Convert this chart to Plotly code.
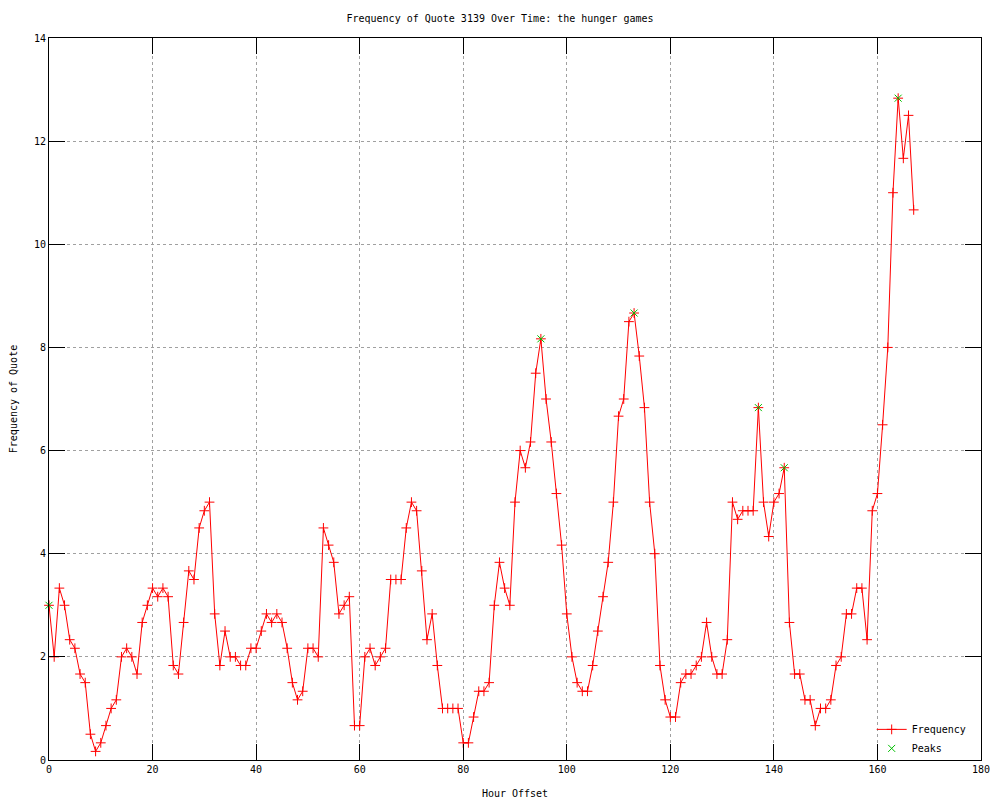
import plotly.graph_objects as go

hours = list(range(168))
freq = [
    3.0, 2.0, 3.333, 3.0, 2.333, 2.1667, 1.667, 1.5, 0.5, 0.1667,
    0.333, 0.667, 1.0, 1.1667, 2.0, 2.1667, 2.0, 1.667, 2.667, 3.0,
    3.333, 3.1667, 3.333, 3.1667, 1.833, 1.667, 2.667, 3.667, 3.5, 4.5,
    4.833, 5.0, 2.833, 1.833, 2.5, 2.0, 2.0, 1.833, 1.833, 2.1667,
    2.1667, 2.5, 2.833, 2.667, 2.833, 2.667, 2.1667, 1.5, 1.1667, 1.333,
    2.1667, 2.1667, 2.0, 4.5, 4.1667, 3.833, 2.833, 3.0, 3.1667, 0.667,
    0.667, 2.0, 2.1667, 1.833, 2.0, 2.1667, 3.5, 3.5, 3.5, 4.5,
    5.0, 4.833, 3.667, 2.333, 2.833, 1.833, 1.0, 1.0, 1.0, 1.0,
    0.333, 0.333, 0.833, 1.333, 1.333, 1.5, 3.0, 3.833, 3.333, 3.0,
    5.0, 6.0, 5.667, 6.1667, 7.5, 8.1667, 7.0, 6.1667, 5.1667, 4.1667,
    2.833, 2.0, 1.5, 1.333, 1.333, 1.833, 2.5, 3.1667, 3.833, 5.0,
    6.667, 7.0, 8.5, 8.667, 7.833, 6.833, 5.0, 4.0, 1.833, 1.1667,
    0.833, 0.833, 1.5, 1.667, 1.667, 1.833, 2.0, 2.667, 2.0, 1.667,
    1.667, 2.333, 5.0, 4.667, 4.833, 4.833, 4.833, 6.833, 5.0, 4.333,
    5.0, 5.1667, 5.667, 2.667, 1.667, 1.667, 1.1667, 1.1667, 0.667, 1.0,
    1.0, 1.1667, 1.833, 2.0, 2.833, 2.833, 3.333, 3.333, 2.333, 4.833,
    5.1667, 6.5, 8.0, 11.0, 12.833, 11.667, 12.5, 10.667,
]
peak_hours = [0, 95, 113, 137, 142, 164]
peak_vals = [freq[h] for h in peak_hours]

x_ticks = list(range(0, 181, 20))
y_ticks = list(range(0, 15, 2))

FONT = "DejaVu Sans Mono"

fig = go.Figure()
fig.add_trace(go.Scatter(
    x=hours, y=freq, mode="lines+markers", name="Frequency",
    line=dict(color="#ff0000", width=1), cliponaxis=False,
    marker=dict(symbol="cross-thin", size=7, line=dict(color="#ff0000", width=1)),
))
fig.add_trace(go.Scatter(
    x=peak_hours, y=peak_vals, mode="markers", name="Peaks", cliponaxis=False,
    marker=dict(symbol="x-thin", size=7, line=dict(color="#00c000", width=1)),
))

axis_common = dict(
    showline=True, linecolor="black", linewidth=1, mirror="ticks",
    ticks="inside", ticklen=16, tickcolor="black", tickwidth=1,
    showgrid=True, gridcolor="#a0a0a0", griddash="dot", gridwidth=1,
    zeroline=False, tickfont=dict(family=FONT, size=10, color="black"),
)

fig.update_layout(
    width=1000, height=800,
    paper_bgcolor="white", plot_bgcolor="white",
    margin=dict(l=49, r=19, t=38, b=40, autoexpand=False),
    title=dict(text="Frequency of Quote 3139 Over Time: the hunger games",
               x=0.5, xanchor="center", y=1 - 18 / 800, yanchor="middle",
               font=dict(family=FONT, size=10, color="black")),
    xaxis=dict(range=[0, 180], tickvals=x_ticks,
               title=dict(text="Hour Offset", font=dict(family=FONT, size=10, color="black"), standoff=15),
               **axis_common),
    yaxis=dict(range=[0, 14], tickvals=y_ticks,
               title=dict(text="Frequency of Quote", font=dict(family=FONT, size=10, color="black"), standoff=14),
               **axis_common),
    legend=dict(x=0.99, y=-0.004, xanchor="right", yanchor="bottom",
                bgcolor="rgba(0,0,0,0)", font=dict(family=FONT, size=10, color="black"),
                itemwidth=30, tracegroupgap=0),
    showlegend=True,
)

fig.write_html("out.html", config={"displayModeBar": False},
               post_script="document.body.style.margin='0';document.body.style.overflow='hidden';")
